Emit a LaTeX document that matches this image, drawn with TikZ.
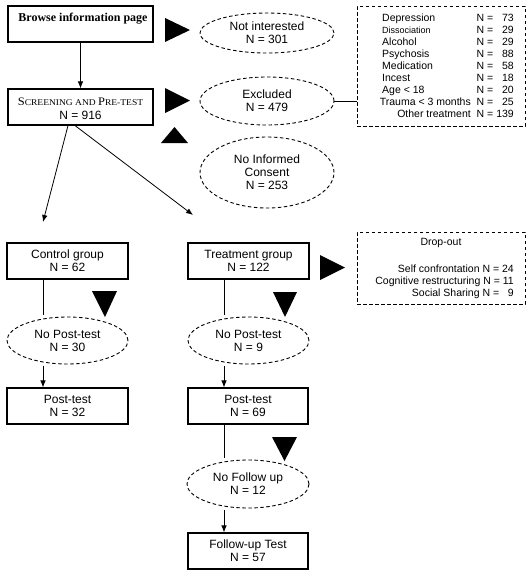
\documentclass[tikz,border=0pt]{standalone}
\usepackage{fontspec}
\setmainfont{Liberation Sans}
\newfontfamily\tnr{Liberation Serif}
\usetikzlibrary{shapes.geometric,arrows.meta}
\newcommand\fsz[2]{\fontsize{#1pt}{#2pt}\selectfont}
\begin{document}
\begin{tikzpicture}[x=1pt,y=-1pt,
  box/.style={draw, line width=1.1pt, inner sep=0pt, align=center, font=\fsz{12}{13}},
  oval/.style={draw, ellipse, dashed, dash pattern=on 3.5pt off 2.5pt, line width=0.9pt, inner sep=0pt, align=center, font=\fsz{12}{13}},
  dbox/.style={draw, dashed, dash pattern=on 3.5pt off 2.5pt, line width=0.9pt, inner sep=0pt},
  arr/.style={-{Latex[length=7pt,width=5.5pt]}, line width=0.8pt},
  ln/.style={line width=0.8pt},
  tri/.style={fill=black},
  lst/.style={inner sep=0pt, font=\fsz{10.5}{12}},
]
\useasboundingbox (0,0) rectangle (529,573);

% boxes
\node[box, minimum width=145pt, minimum height=36pt] (browse) at (80.5,24) {};
\node[inner sep=0pt, font=\tnr\bfseries\fsz{12}{13}] (browsetxt) at (83,18.5) {Browse information page};
\node[box, minimum width=145pt, minimum height=36pt] (screen) at (80.5,107) {};
\node[inner sep=0pt, font=\tnr\fsz{11.5}{13}] (screentxt) at (80.5,102) {\scalebox{1.08}[1]{S\fsz{8.8}{13}CREENING AND \fsz{11.5}{13}P\fsz{8.8}{13}RE-TEST}};
\node[inner sep=0pt, font=\fsz{12}{13}] (screenn) at (80.5,115) {N = 916};

% ellipses (top right)
\node[oval, minimum width=134pt, minimum height=40pt] (notint) at (267,33) {Not interested\\N = 301};
\node[oval, minimum width=134pt, minimum height=48pt] (excl) at (267,101) {Excluded\\N = 479};
\node[oval, minimum width=134pt, minimum height=71pt] (noic) at (267,172.5) {No Informed\\Consent\\N = 253};

% excluded list
\node[dbox, minimum width=168pt, minimum height=120pt] (list) at (441,66) {};
\draw[ln] (excl.east) -- (excl.east -| list.west);
\foreach \t/\n/\i in {Depression/\phantom{0}73/0, Alcohol/\phantom{0}29/2, Psychosis/\phantom{0}88/3, Medication/\phantom{0}58/4, Incest/\phantom{0}18/5, Age < 18/\phantom{0}20/6}{
  \node[lst, anchor=base west] (lt\i) at (382,21+12.1*\i) {\t};
  \node[lst, anchor=base east] (ln\i) at (514,21+12.1*\i) {N = \n};
}
\node[lst, anchor=base west, font=\fsz{9}{11}] (lt1) at (382,33.1) {Dissociation};
\node[lst, anchor=base east] (ln1) at (514,33.1) {N = \phantom{0}29};
\node[lst, anchor=base east] (lt7) at (471,105.7) {Trauma < 3 months};
\node[lst, anchor=base east] (ln7) at (514,105.7) {N = \phantom{0}25};
\node[lst, anchor=base east] (lt8) at (471,117.8) {Other treatment};
\node[lst, anchor=base east] (ln8) at (514,117.8) {N = 139};

% groups
\node[box, minimum width=121pt, minimum height=36pt] (cg) at (67.5,261) {Control group\\N = 62};
\node[box, minimum width=121pt, minimum height=36pt] (tg) at (248.5,261) {Treatment group\\N = 122};
\node[oval, minimum width=121pt, minimum height=47pt] (np1) at (67.5,340.5) {No Post-test\\N = 30};
\node[oval, minimum width=121pt, minimum height=47pt] (np2) at (248.5,340.5) {No Post-test\\N = 9};
\node[box, minimum width=121pt, minimum height=36pt] (pt1) at (67.5,406) {Post-test\\N = 32};
\node[box, minimum width=120pt, minimum height=36pt] (pt2) at (248,406) {Post-test\\N = 69};
\node[oval, minimum width=122pt, minimum height=48pt] (nfu) at (248,484) {No Follow up\\N = 12};
\node[box, minimum width=120pt, minimum height=36pt] (fu) at (248,551) {Follow-up Test\\N = 57};

% drop-out box
\node[dbox, minimum width=168pt, minimum height=72pt] (drop) at (441,268) {};
\node[lst, font=\fsz{10.5}{12}] (droptitle) at (441,243) {Drop-out};
\node[lst, anchor=base east] (d1) at (514,272) {Self confrontation N = 24};
\node[lst, anchor=base east] (d2) at (514,284) {Cognitive restructuring N = 11};
\node[lst, anchor=base east] (d3) at (514,296) {Social Sharing N = \phantom{0}9};

% connectors
\draw[arr] (browse.south) -- (screen.north);
\coordinate (cgtip) at (43,222);
\coordinate (tgtip) at (193,215);
\draw[arr] ([xshift=-12.5pt]screen.south) -- (cgtip);
\draw[arr] ([xshift=-5.5pt]screen.south) -- (tgtip);
\draw[ln] ([xshift=-24.5pt]cg.south) -- ([xshift=-24.5pt,yshift=1.5pt]np1.north);
\draw[arr] ([xshift=-24.5pt,yshift=-1.5pt]np1.south) -- ([xshift=-24.5pt]pt1.north);
\draw[ln] ([xshift=-24.5pt]tg.south) -- ([xshift=-24.5pt,yshift=1.5pt]np2.north);
\draw[arr] ([xshift=-24.5pt,yshift=-1.5pt]np2.south) -- ([xshift=-24pt]pt2.north);
\draw[ln] ([xshift=-24pt]pt2.south) -- ([xshift=-24pt,yshift=1.5pt]nfu.north);
\draw[arr] ([xshift=-24pt,yshift=-1.5pt]nfu.south) -- ([xshift=-24pt]fu.north);

% triangles
\fill[tri] (165,18) -- (165,42) -- (190,30) -- cycle;
\fill[tri] (165,88) -- (165,113) -- (190,100.5) -- cycle;
\fill[tri] (161,143) -- (188,143) -- (174.5,127) -- cycle;
\fill[tri] (92,291) -- (117,291) -- (105,317) -- cycle;
\fill[tri] (320,255) -- (320,280) -- (345,267.5) -- cycle;
\fill[tri] (273,292) -- (297,292) -- (285,317) -- cycle;
\fill[tri] (272,437) -- (297,437) -- (284.5,461) -- cycle;
\end{tikzpicture}
\end{document}
